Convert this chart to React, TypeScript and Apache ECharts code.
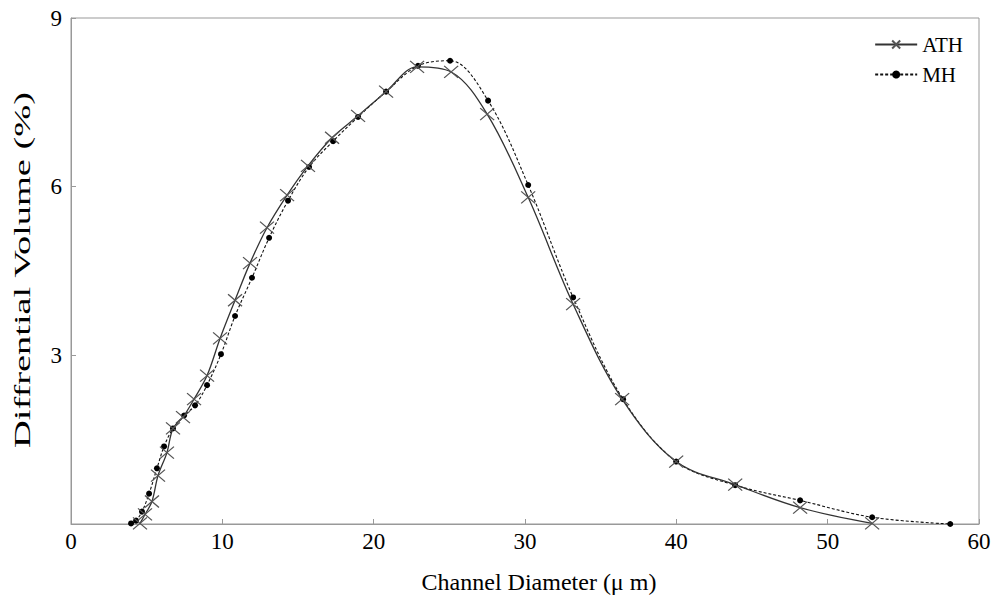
import React, { useEffect, useRef } from "react";
import * as echarts from "echarts";

const athX = [4.56, 4.89, 5.35, 5.75, 6.34, 6.74, 7.40, 8.13, 8.99, 9.85, 10.84, 11.83, 12.95, 14.28, 15.66, 17.25, 18.97, 20.82, 22.87, 25.12, 27.50, 30.21, 33.18, 36.42, 39.99, 43.89, 48.18, 52.94];
const athY = [0.01, 0.17, 0.40, 0.86, 1.27, 1.70, 1.90, 2.22, 2.64, 3.30, 3.98, 4.64, 5.27, 5.85, 6.37, 6.87, 7.26, 7.69, 8.13, 8.04, 7.29, 5.81, 3.91, 2.22, 1.11, 0.70, 0.29, 0.01];

const mhX = [3.97, 4.30, 4.69, 5.16, 5.68, 6.15, 6.74, 7.47, 8.20, 8.99, 9.91, 10.84, 11.96, 13.09, 14.34, 15.73, 17.32, 18.97, 20.82, 22.93, 25.05, 27.56, 30.21, 33.18, 36.48, 39.99, 43.89, 48.18, 52.94, 58.10];
const mhY = [0.01, 0.06, 0.22, 0.54, 0.99, 1.38, 1.70, 1.93, 2.11, 2.47, 3.02, 3.70, 4.38, 5.09, 5.75, 6.35, 6.81, 7.24, 7.69, 8.15, 8.24, 7.53, 6.03, 4.03, 2.22, 1.11, 0.69, 0.42, 0.12, 0.00];

const seriesNames = ["ATH", "MH"];
const xTitle = "Channel Diameter (μ m)";
const yTitle = "Diffrential Volume (%)";

const FONT = "'Liberation Serif', 'Times New Roman', serif";
const X_SYMBOL = "path://M0,0L12,10M12,0L0,10";

export default function App() {
  const ref = useRef<HTMLDivElement>(null);
  useEffect(() => {
    if (!ref.current) return;
    const chart = echarts.init(ref.current, undefined, { renderer: "svg" });
    chart.setOption({
      animation: false,
      backgroundColor: "#fff",
      textStyle: { fontFamily: FONT },
      grid: {
        left: 71,
        right: 15,
        top: 18,
        bottom: 77,
        show: true,
        borderColor: "#999",
        borderWidth: 1,
      },
      graphic: [
        {
          type: "text",
          x: 22,
          y: 270,
          rotation: Math.PI / 2,
          scaleX: 1.6,
          style: {
            text: yTitle,
            font: `24px ${FONT}`,
            fill: "#000",
            align: "center",
            verticalAlign: "middle",
            textAlign: "center",
            textVerticalAlign: "middle",
          },
        },
      ],
      legend: {
        orient: "vertical",
        right: 26,
        top: 29,
        itemWidth: 42,
        itemHeight: 10,
        itemGap: 9,
        data: seriesNames,
        textStyle: { fontFamily: FONT, fontSize: 21, color: "#000" },
      },
      xAxis: {
        type: "value",
        min: 0,
        max: 60,
        interval: 10,
        name: xTitle,
        nameLocation: "middle",
        nameGap: 46,
        nameTextStyle: { fontFamily: FONT, fontSize: 24, color: "#000", padding: [0, 0, 0, 28] },
        axisLine: { show: true, onZero: false, lineStyle: { color: "#999" } },
        axisTick: { show: true, inside: true, length: 5, lineStyle: { color: "#999" } },
        axisLabel: { fontFamily: FONT, fontSize: 23, color: "#000", margin: 6 },
        splitLine: { show: false },
      },
      yAxis: {
        type: "value",
        min: 0,
        max: 9,
        interval: 3,
        axisLine: { show: true, lineStyle: { color: "#999" } },
        axisTick: { show: true, inside: true, length: 5, lineStyle: { color: "#999" } },
        axisLabel: {
          fontFamily: FONT,
          fontSize: 23,
          color: "#000",
          margin: 9,
          formatter: (v: number) => (v === 0 ? "" : String(v)),
        },
        splitLine: { show: false },
      },
      series: [
        {
          name: seriesNames[0],
          type: "line",
          data: athX.map((x, i) => [x, athY[i]]),
          smooth: 0.35,
          symbol: X_SYMBOL,
          symbolSize: [14, 12],
          showAllSymbol: true,
          lineStyle: { color: "#333", width: 1.3, type: "solid" },
          itemStyle: { color: "rgba(0,0,0,0)", borderColor: "#555", borderWidth: 1.2 },
          z: 3,
        },
        {
          name: seriesNames[1],
          type: "line",
          data: mhX.map((x, i) => [x, mhY[i]]),
          smooth: 0.35,
          symbol: "circle",
          symbolSize: 6,
          showAllSymbol: true,
          lineStyle: { color: "#111", width: 1.1, type: [3, 2] },
          itemStyle: { color: "#000", borderWidth: 0 },
          z: 2,
        },
      ],
    });
    return () => chart.dispose();
  }, []);
  return (
    <div
      ref={ref}
      style={{ position: "fixed", left: 0, top: 0, width: 994, height: 601 }}
    />
  );
}
